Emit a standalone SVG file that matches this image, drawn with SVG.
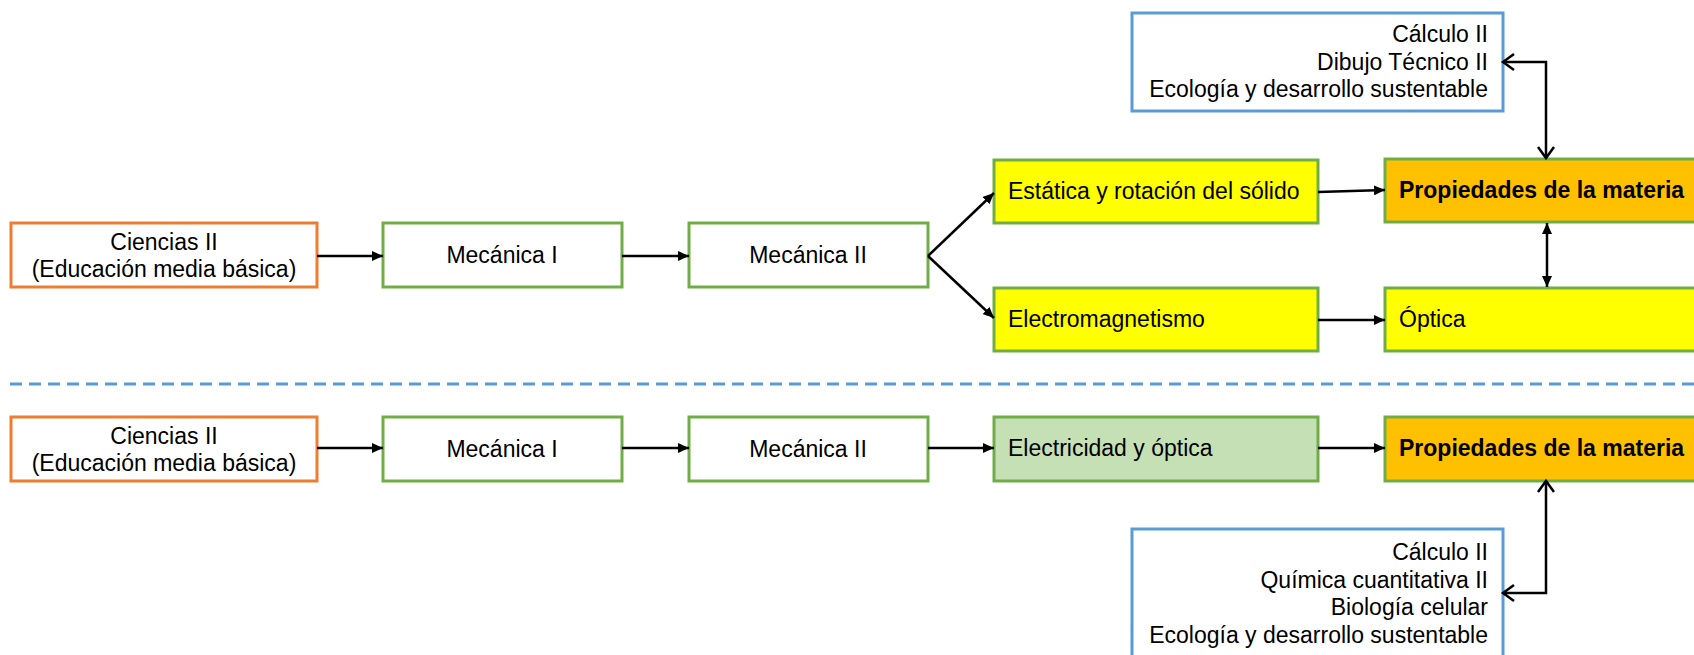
<svg xmlns="http://www.w3.org/2000/svg" width="1694" height="655" viewBox="0 0 1694 655">
<style>
text{font-family:"Liberation Sans",Arial,sans-serif;font-size:23px;fill:#000}
.b{font-weight:bold}
.box{stroke-width:3}
.org{fill:#fff;stroke:#ED7D31}
.grn{fill:#fff;stroke:#70AD47}
.yel{fill:#FFFF00;stroke:#70AD47}
.amb{fill:#FFC000;stroke:#70AD47}
.lgr{fill:#C5E0B4;stroke:#70AD47}
.blu{fill:#fff;stroke:#5B9BD5}
.c{fill:none;stroke:#000;stroke-width:2.5}
.cf{marker-end:url(#af)}
.mid{text-anchor:middle}
.end{text-anchor:end}
</style>
<defs>
<marker id="af" viewBox="0 0 11 10" refX="11" refY="5" markerWidth="11" markerHeight="10" markerUnits="userSpaceOnUse" orient="auto-start-reverse"><path d="M0,0 L11,5 L0,10 z" fill="#000"/></marker>
<marker id="ao" viewBox="-2 -2 16 20" refX="11" refY="8" markerWidth="16" markerHeight="20" markerUnits="userSpaceOnUse" orient="auto-start-reverse"><path d="M0,0 L11,8 L0,16" fill="none" stroke="#000" stroke-width="2.5"/></marker>
</defs>

<line x1="10" y1="384" x2="1694" y2="384" stroke="#5B9BD5" stroke-width="3" stroke-dasharray="12 7"/>

<g id="n-top-ciencias"><rect class="box org" x="11" y="223" width="306" height="64"/><text class="mid" x="164" y="250">Ciencias II</text><text class="mid" x="164" y="277">(Educación media básica)</text></g>
<g id="n-top-mec1"><rect class="box grn" x="383" y="223" width="239" height="64"/><text class="mid" x="502" y="263">Mecánica I</text></g>
<g id="n-top-mec2"><rect class="box grn" x="689" y="223" width="239" height="64"/><text class="mid" x="808" y="263">Mecánica II</text></g>
<g id="n-estatica"><rect class="box yel" x="994" y="160" width="324" height="63"/><text x="1008" y="199">Estática y rotación del sólido</text></g>
<g id="n-electromag"><rect class="box yel" x="994" y="288" width="324" height="63"/><text x="1008" y="327">Electromagnetismo</text></g>
<g id="n-top-prop"><rect class="box amb" x="1385" y="159" width="320" height="63"/><text class="b" x="1399" y="198">Propiedades de la materia</text></g>
<g id="n-optica"><rect class="box yel" x="1385" y="288" width="320" height="63"/><text x="1399" y="327">Óptica</text></g>
<g id="n-top-blue"><rect class="box blu" x="1132" y="13" width="371" height="98"/><text class="end" x="1488" y="42">Cálculo II</text><text class="end" x="1488" y="70">Dibujo Técnico II</text><text class="end" x="1488" y="97">Ecología y desarrollo sustentable</text></g>

<g id="n-bot-ciencias"><rect class="box org" x="11" y="417" width="306" height="64"/><text class="mid" x="164" y="444">Ciencias II</text><text class="mid" x="164" y="471">(Educación media básica)</text></g>
<g id="n-bot-mec1"><rect class="box grn" x="383" y="417" width="239" height="64"/><text class="mid" x="502" y="457">Mecánica I</text></g>
<g id="n-bot-mec2"><rect class="box grn" x="689" y="417" width="239" height="64"/><text class="mid" x="808" y="457">Mecánica II</text></g>
<g id="n-electricidad"><rect class="box lgr" x="994" y="417" width="324" height="64"/><text x="1008" y="456">Electricidad y óptica</text></g>
<g id="n-bot-prop"><rect class="box amb" x="1385" y="417" width="320" height="64"/><text class="b" x="1399" y="456">Propiedades de la materia</text></g>
<g id="n-bot-blue"><rect class="box blu" x="1132" y="529" width="371" height="140"/><text class="end" x="1488" y="560">Cálculo II</text><text class="end" x="1488" y="588">Química cuantitativa II</text><text class="end" x="1488" y="615">Biología celular</text><text class="end" x="1488" y="643">Ecología y desarrollo sustentable</text></g>

<g id="connectors">
<line class="c cf" x1="317" y1="256" x2="383" y2="256"/>
<line class="c cf" x1="622" y1="256" x2="689" y2="256"/>
<line class="c cf" x1="928" y1="256" x2="994" y2="193"/>
<line class="c cf" x1="928" y1="256" x2="994" y2="318"/>
<line class="c cf" x1="1318" y1="192" x2="1385" y2="190"/>
<line class="c cf" x1="1318" y1="320" x2="1385" y2="320"/>
<line class="c cf" x1="1547" y1="223" x2="1547" y2="287" style="marker-start:url(#af)"/>
<polyline class="c" points="1503,62 1546,62 1546,158" marker-start="url(#ao)" marker-end="url(#ao)"/>
<line class="c cf" x1="317" y1="448" x2="383" y2="448"/>
<line class="c cf" x1="622" y1="448" x2="689" y2="448"/>
<line class="c cf" x1="928" y1="448" x2="994" y2="448"/>
<line class="c cf" x1="1318" y1="448" x2="1385" y2="448"/>
<polyline class="c" points="1546,481 1546,593 1503,593" marker-start="url(#ao)" marker-end="url(#ao)"/>
</g>
</svg>
